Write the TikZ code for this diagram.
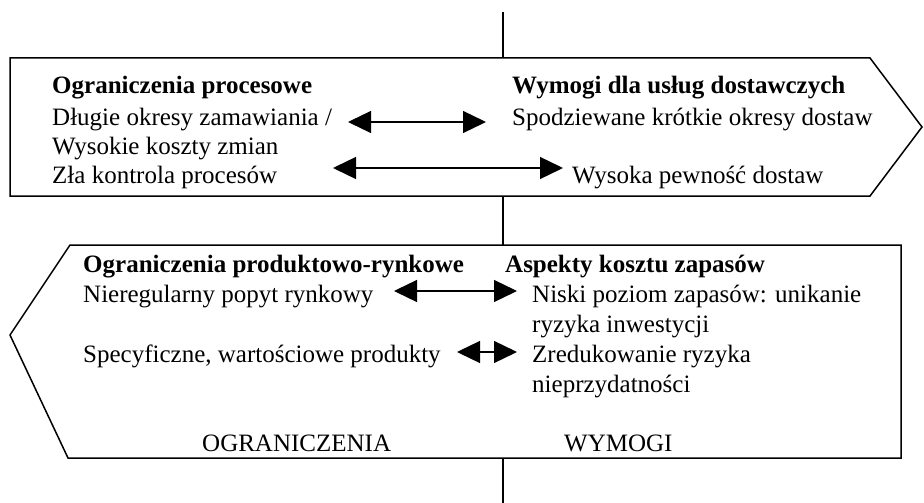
\documentclass[tikz,border=0pt]{standalone}
\usepackage{fontspec}
\setmainfont{Liberation Serif}
\usetikzlibrary{arrows.meta}
\begin{document}
\begin{tikzpicture}[x=1pt,y=-1pt,
  txt/.style={anchor=base west,inner sep=0pt,font=\fontsize{25}{30}\selectfont},
  hd/.style={txt,font=\fontsize{25}{30}\selectfont\bfseries},
  frame/.style={draw=black,line width=1.5pt,line join=miter},
  axis/.style={draw=black,line width=1.3pt},
  dbl/.style={draw=black,line width=1.3pt,{Triangle[length=23pt,width=22pt]}-{Triangle[length=23pt,width=22pt]}}]
\useasboundingbox (0,0) rectangle (924,503);
% top box (pointing right)
\draw[frame] (10,58) -- (870,58) -- (922,127) -- (870,196) -- (10,196) -- cycle;
% bottom box (pointing left)
\draw[frame] (70,245) -- (901,245) -- (901,458) -- (68,458) -- (10,335) -- cycle;
% central axis
\coordinate (v1) at (503,12);
\coordinate (v2) at (503,58);
\coordinate (v3) at (503,196);
\coordinate (v4) at (503,245);
\coordinate (v5) at (503,458);
\coordinate (v6) at (503,503);
\draw[axis] (v1) -- (v2);
\draw[axis] (v3) -- (v4);
\draw[axis] (v5) -- (v6);
% top box texts
\node[hd]  (h1) at (52,93)  {Ograniczenia procesowe};
\node[txt] (l1) at (52,125) {Długie okresy zamawiania /};
\node[txt] (l2) at (52,154) {Wysokie koszty zmian};
\node[txt] (l3) at (52,183) {Zła kontrola procesów};
\node[hd]  (h2) at (512,93)  {Wymogi dla usług dostawczych};
\node[txt] (r1) at (512,125) {Spodziewane krótkie okresy dostaw};
\node[txt] (r2) at (572,183) {Wysoka pewność dostaw};
% bottom box texts
\node[hd]  (h3) at (83,272) {Ograniczenia produktowo-rynkowe};
\node[txt] (l4) at (83,302) {Nieregularny popyt rynkowy};
\node[txt] (l5) at (83,362) {Specyficzne, wartościowe produkty};
\node[txt] (c1) at (202,451) {OGRANICZENIA};
\node[hd]  (h4) at (505,272) {Aspekty kosztu zapasów};
\node[txt] (r3) at (532,302) {Niski poziom zapasów: unikanie};
\node[txt] (r4) at (532,332) {ryzyka inwestycji};
\node[txt] (r5) at (532,362) {Zredukowanie ryzyka};
\node[txt] (r6) at (532,392) {nieprzydatności};
\node[txt] (c2) at (564,451) {WYMOGI};
% arrows
\coordinate (a1s) at (348,122);
\coordinate (a1e) at (486,122);
\coordinate (a2s) at (333,168);
\coordinate (a2e) at (563,168);
\coordinate (a3s) at (394,291);
\coordinate (a3e) at (517,291);
\coordinate (a4s) at (457,352);
\coordinate (a4e) at (517,352);
\draw[dbl] (a1s) -- (a1e);
\draw[dbl] (a2s) -- (a2e);
\draw[dbl] (a3s) -- (a3e);
\draw[dbl] (a4s) -- (a4e);
\end{tikzpicture}
\end{document}
